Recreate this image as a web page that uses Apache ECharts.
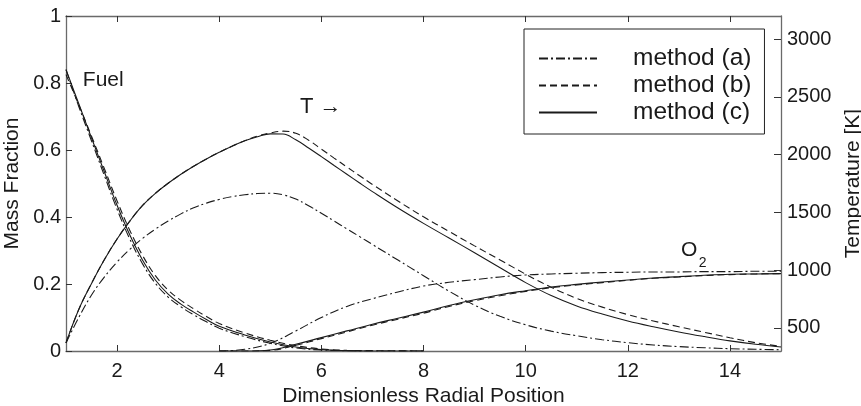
<!DOCTYPE html>
<html><head><meta charset="utf-8">
<script src="https://cdn.jsdelivr.net/npm/echarts@6/dist/echarts.min.js"></script>
<style>html,body{margin:0;padding:0;background:#fff}#c{width:861px;height:406px}</style>
</head><body><div id="c"></div>
<script>
// ---- data ----
const xFuel = [1, 1.25, 1.5, 1.75, 2, 2.25, 2.5, 2.75, 3, 3.25, 3.5, 3.75, 4, 4.5, 5, 5.5, 6, 6.5, 7, 8];
const fuelA = [0.84, 0.73, 0.627, 0.524, 0.423, 0.334, 0.26, 0.202, 0.161, 0.132, 0.108, 0.087, 0.068, 0.043, 0.023, 0.009, 0.003, 0.001, 0, 0];
const fuelB = [0.825, 0.735, 0.641, 0.545, 0.448, 0.36, 0.285, 0.225, 0.182, 0.151, 0.126, 0.103, 0.082, 0.054, 0.032, 0.016, 0.006, 0.002, 0.001, 0];
const fuelC = [0.84, 0.738, 0.636, 0.535, 0.435, 0.346, 0.271, 0.212, 0.17, 0.14, 0.116, 0.094, 0.074, 0.048, 0.027, 0.012, 0.004, 0.001, 0, 0];

const xO2 = [4, 4.5, 5, 5.5, 6, 6.5, 7, 7.5, 8, 8.5, 9, 9.5, 10, 10.5, 11, 11.5, 12, 12.5, 13, 13.5, 14, 14.5, 15];
const o2A = [0, 0.005, 0.023, 0.06, 0.1, 0.133, 0.156, 0.176, 0.194, 0.205, 0.213, 0.221, 0.227, 0.23, 0.232, 0.234, 0.235, 0.236, 0.236, 0.237, 0.237, 0.238, 0.238];
const o2B = [0, 0, 0.002, 0.017, 0.037, 0.057, 0.077, 0.095, 0.113, 0.133, 0.15, 0.165, 0.178, 0.189, 0.197, 0.204, 0.211, 0.217, 0.221, 0.225, 0.228, 0.23, 0.231];
const o2C = [0, 0, 0.003, 0.02, 0.04, 0.06, 0.08, 0.098, 0.116, 0.136, 0.153, 0.168, 0.18, 0.191, 0.199, 0.206, 0.212, 0.218, 0.222, 0.226, 0.229, 0.23, 0.231];

const xT = [1, 1.25, 1.5, 1.75, 2, 2.25, 2.5, 2.75, 3, 3.25, 3.5, 3.75, 4, 4.25, 4.5, 4.75, 5, 5.25, 5.5, 5.75, 6,
            6.25, 6.5, 6.75, 7, 7.5, 8, 8.5, 9, 9.5, 10, 10.5, 11, 11.5, 12, 12.5, 13, 13.5, 14, 14.5, 15];
const tempA = [370, 590, 785, 940, 1070, 1180, 1275, 1355, 1425, 1487, 1540, 1580, 1612, 1636, 1652, 1663, 1666, 1652, 1615, 1558, 1492,
               1425, 1357, 1290, 1222, 1087, 952, 818, 697, 600, 527, 472, 432, 398, 372, 352, 338, 328, 320, 315, 311];
const tempB = [370, 660, 885, 1090, 1270, 1425, 1560, 1665, 1752, 1830, 1900, 1963, 2020, 2073, 2120, 2160, 2188, 2203, 2185, 2125, 2048,
               1970, 1893, 1817, 1742, 1598, 1462, 1335, 1210, 1088, 965, 852, 755, 680, 615, 560, 510, 462, 415, 372, 340];
const tempC = [370, 660, 885, 1090, 1270, 1425, 1560, 1665, 1752, 1830, 1900, 1963, 2020, 2073, 2120, 2155, 2180, 2178, 2128, 2058, 1983,
               1906, 1830, 1754, 1680, 1538, 1405, 1278, 1150, 1020, 892, 780, 690, 620, 560, 510, 465, 425, 388, 358, 335];

const xTicks = [2, 4, 6, 8, 10, 12, 14];
const tTicks = [500, 1000, 1500, 2000, 2500, 3000];
const methods = ['method (a)', 'method (b)', 'method (c)'];

// ---- chart ----
const FONT = 'Liberation Sans, Arial, sans-serif';
const INK = '#1a1a1a';
const AX = '#6a6a6a';
const dashes = [[9, 3, 2, 3], [7, 4], 'solid'];

function mk(mi, xs, ys, yi) {
  return {
    name: methods[mi], type: 'line', xAxisIndex: 0, yAxisIndex: yi,
    data: xs.map((x, i) => [x, ys[i]]),
    symbol: 'none', showSymbol: false, smooth: 0.4,
    lineStyle: { color: INK, width: 1.1, type: dashes[mi] },
    itemStyle: { color: INK },
    emphasis: { disabled: true }, silent: true
  };
}

const chart = echarts.init(document.getElementById('c'), null, { renderer: 'canvas' });
const xBase = {
  type: 'value', min: 1, max: 15,
  axisLine: { show: true, onZero: false, lineStyle: { color: AX, width: 1.3 } },
  axisTick: { show: true, inside: true, length: 6, customValues: xTicks, lineStyle: { color: '#333' } },
  splitLine: { show: false }
};
chart.setOption({
  animation: false,
  textStyle: { fontFamily: FONT },
  grid: { left: 66, right: 80, top: 16, bottom: 55, containLabel: false, outerBoundsMode: 'none' },
  legend: {
    data: methods, orient: 'vertical', left: 524, top: 29,
    padding: [17, 13, 9, 14], itemWidth: 58, itemHeight: 12, itemGap: 2,
    borderColor: '#222', borderWidth: 1, backgroundColor: '#fff',
    selectedMode: false,
    itemStyle: { color: 'rgba(0,0,0,0)', borderWidth: 0, opacity: 0 },
    textStyle: { fontSize: 24.5, color: INK, fontFamily: FONT, padding: [0, 0, 0, 31], lineHeight: 24 }
  },
  xAxis: [
    Object.assign({}, xBase, {
      position: 'bottom',
      axisLabel: { customValues: xTicks, fontSize: 20, color: INK, margin: 10, fontFamily: FONT },
      name: 'Dimensionless Radial Position', nameLocation: 'middle', nameGap: 29,
      nameTextStyle: { fontSize: 21, color: INK, fontFamily: FONT }
    }),
    Object.assign({}, xBase, { position: 'top', axisLabel: { show: false } })
  ],
  yAxis: [
    {
      type: 'value', min: 0, max: 1, interval: 0.2, position: 'left',
      axisLine: { show: true, onZero: false, lineStyle: { color: AX, width: 1.3 } },
      axisTick: { show: true, inside: true, length: 6, lineStyle: { color: '#333' } },
      axisLabel: { fontSize: 20, color: INK, margin: 5, fontFamily: FONT },
      splitLine: { show: false },
      name: 'Mass Fraction', nameLocation: 'middle', nameGap: 37, nameRotate: 90,
      nameTextStyle: { fontSize: 21, color: INK, fontFamily: FONT }
    },
    {
      type: 'value', min: 300, max: 3200, position: 'right',
      axisLine: { show: true, onZero: false, lineStyle: { color: AX, width: 1.3 } },
      axisTick: { show: true, inside: true, length: 7, customValues: tTicks, lineStyle: { color: '#333' } },
      axisLabel: { customValues: tTicks, fontSize: 20, color: INK, margin: 6, fontFamily: FONT,
                   formatter: v => String(v) },
      splitLine: { show: false },
      name: 'Temperature [K]', nameLocation: 'middle', nameGap: 52, nameRotate: 90,
      nameTextStyle: { fontSize: 21, color: INK, fontFamily: FONT }
    }
  ],
  series: [
    mk(0, xFuel, fuelA, 0), mk(1, xFuel, fuelB, 0), mk(2, xFuel, fuelC, 0),
    mk(0, xO2, o2A, 0), mk(1, xO2, o2B, 0), mk(2, xO2, o2C, 0),
    mk(0, xT, tempA, 1), mk(1, xT, tempB, 1), mk(2, xT, tempC, 1)
  ]
});

// annotations anchored in data coordinates
function px(x, y) { return chart.convertToPixel({ xAxisIndex: 0, yAxisIndex: 0 }, [x, y]); }
const pFuel = px(1.33, 0.809), pT = px(5.58, 0.728), pO = px(13.04, 0.301), p2 = px(13.39, 0.262);
const tStyle = (t, fs) => ({ text: t, fontSize: fs, fill: INK, fontFamily: FONT, verticalAlign: 'middle', align: 'left' });
chart.setOption({
  graphic: [
    { type: 'text', x: pFuel[0], y: pFuel[1], style: tStyle('Fuel', 21), silent: true },
    { type: 'text', x: pT[0], y: pT[1], style: tStyle('T \u2192', 22), silent: true },
    { type: 'text', x: pO[0], y: pO[1], style: tStyle('O', 21), silent: true },
    { type: 'text', x: p2[0], y: p2[1], style: tStyle('2', 14), silent: true }
  ]
});
</script>
</body></html>
